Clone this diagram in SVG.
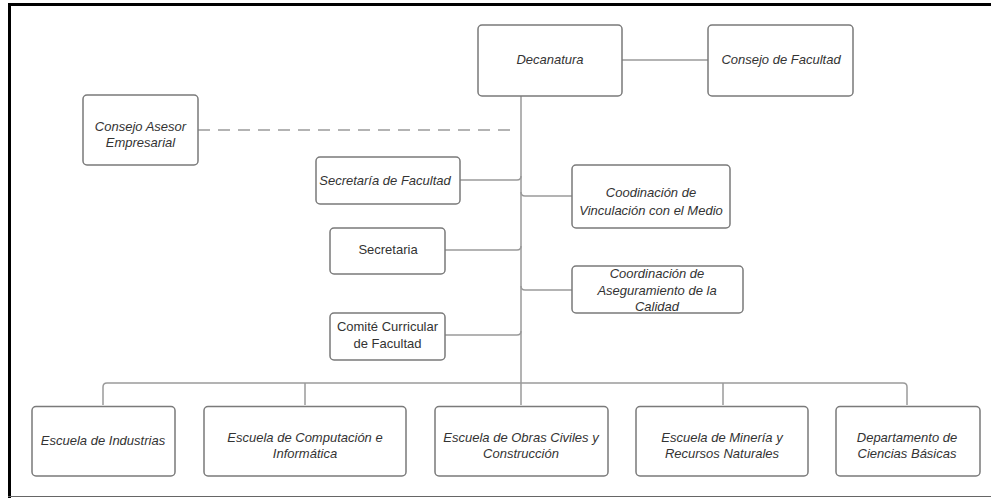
<svg xmlns="http://www.w3.org/2000/svg" width="991" height="498" viewBox="0 0 991 498">
<style>
.box{fill:#fff;stroke:#7a7a7a;stroke-width:1.5}
.t{font-family:"Liberation Sans",Arial,sans-serif;font-size:13px;fill:#333;text-anchor:middle;font-style:italic}
.n{font-style:normal}
.c{fill:none;stroke:#9a9a9a;stroke-width:1.5}
.d{stroke-dasharray:12 8}
</style>
<rect width="991" height="498" fill="#fff"/>
<line x1="8" y1="4.5" x2="991" y2="4.5" stroke="#000" stroke-width="3"/>
<line x1="9.5" y1="3" x2="9.5" y2="498" stroke="#000" stroke-width="3"/>
<line x1="8" y1="496.5" x2="991" y2="496.5" stroke="#666" stroke-width="1.2"/>
<g id="connectors">
<path class="c" d="M622 60H708"/>
<path class="c" d="M521 96V405"/>
<path class="c d" d="M198 130H516"/>
<path class="c" d="M460 180H517q4 0 4 -4"/>
<path class="c" d="M445 250H517q4 0 4 -4"/>
<path class="c" d="M445 335H517q4 0 4 -4"/>
<path class="c" d="M521 192q0 4 4 4H572"/>
<path class="c" d="M521 286q0 4 4 4H572"/>
<path class="c" d="M103 405V387q0 -4 4 -4H903q4 0 4 4V405"/>
<path class="c" d="M305 383V405"/>
<path class="c" d="M723 383V405"/>
</g>
<g id="decanatura"><rect class="box" x="478" y="25" width="144" height="71" rx="4"/><text class="t" x="550" y="63.5">Decanatura</text></g>
<g id="consejo-facultad"><rect class="box" x="708" y="25" width="145" height="71" rx="4"/><text class="t" x="781" y="63.5">Consejo de Facultad</text></g>
<g id="consejo-asesor"><rect class="box" x="83" y="95" width="115" height="70" rx="4"/><text class="t" x="140.5" y="130.5">Consejo Asesor</text><text class="t" x="140.5" y="147">Empresarial</text></g>
<g id="secretaria-facultad"><rect class="box" x="316" y="157" width="144" height="47" rx="4"/><text class="t" x="385" y="184.5">Secretaría de Facultad</text></g>
<g id="secretaria"><rect class="box" x="330" y="228" width="115" height="46" rx="4"/><text class="t n" x="388" y="254">Secretaria</text></g>
<g id="comite"><rect class="box" x="330" y="313" width="115" height="47" rx="4"/><text class="t n" x="387.5" y="330.5">Comité Curricular</text><text class="t n" x="387.5" y="348">de Facultad</text></g>
<g id="vinculacion"><rect class="box" x="572" y="165" width="158" height="63" rx="4"/><text class="t" x="651" y="197">Coodinación de</text><text class="t" x="651" y="214.5">Vinculación con el Medio</text></g>
<g id="aseguramiento"><rect class="box" x="572" y="266" width="171" height="47" rx="4"/><text class="t" x="657" y="278">Coordinación de</text><text class="t" x="657" y="294.5">Aseguramiento de la</text><text class="t" x="657" y="311">Calidad</text></g>
<g id="industrias"><rect class="box" x="32" y="406.5" width="143" height="69.5" rx="4"/><text class="t" x="103" y="444.5">Escuela de Industrias</text></g>
<g id="computacion"><rect class="box" x="204" y="406.5" width="202" height="69.5" rx="4"/><text class="t" x="305" y="442">Escuela de Computación e</text><text class="t" x="305" y="458">Informática</text></g>
<g id="obras"><rect class="box" x="435" y="406.5" width="173" height="69.5" rx="4"/><text class="t" x="521" y="442">Escuela de Obras Civiles y</text><text class="t" x="521" y="458">Construcción</text></g>
<g id="mineria"><rect class="box" x="636" y="406.5" width="172" height="69.5" rx="4"/><text class="t" x="722" y="442">Escuela de Minería y</text><text class="t" x="722" y="458">Recursos Naturales</text></g>
<g id="ciencias"><rect class="box" x="836" y="406.5" width="144" height="69.5" rx="4"/><text class="t" x="907" y="442">Departamento de</text><text class="t" x="907" y="458">Ciencias Básicas</text></g>
</svg>
